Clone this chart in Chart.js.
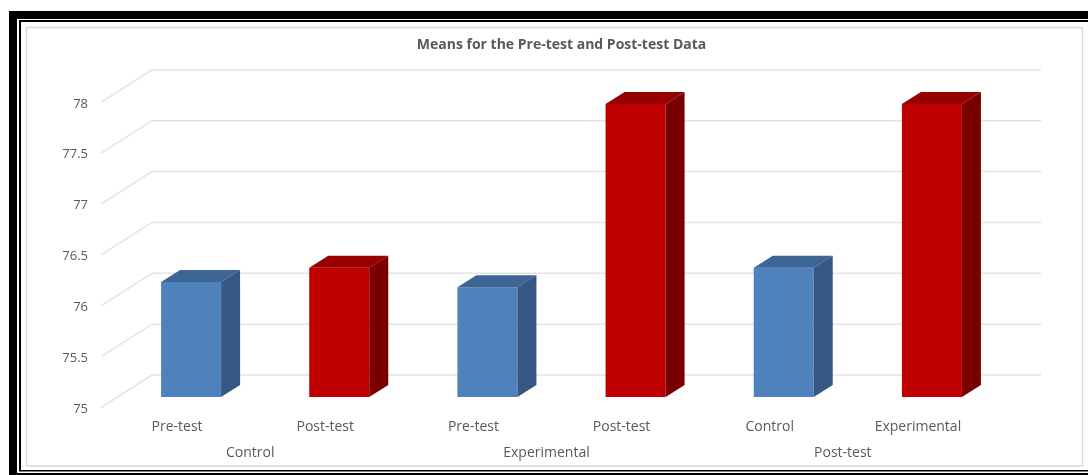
<!DOCTYPE html>
<html>
<head>
<meta charset="utf-8">
<title>Means for the Pre-test and Post-test Data</title>
<script src="https://cdn.jsdelivr.net/npm/chart.js@4.4.1/dist/chart.umd.min.js"></script>
<style>
  html, body { margin: 0; padding: 0; background: #fff; }
</style>
</head>
<body>
<canvas id="myChart" width="1088" height="475"></canvas>
<script>
// group names under each pair of bars, the test label under each bar, and the mean score
const groups = ['Control', 'Experimental', 'Post-test'];
const tests = ['Pre-test', 'Post-test', 'Pre-test', 'Post-test', 'Control', 'Experimental'];
const means = [76.13, 76.27, 76.08, 77.88, 76.27, 77.88];
const yTicks = [75, 75.5, 76, 76.5, 77, 77.5, 78];

const textColor = '#595959';

// face colours for the fake 3D boxes
const shade = {
    blue: { front: '#4f81bd', top: '#3d6696', side: '#355781' },
    red:  { front: '#c00000', top: '#960000', side: '#780000' }
};
const barColor = i => (i % 2 ? shade.red : shade.blue);

// box depth, and where the back wall / front edge sit relative to the bar plane
const depth = { dx: 19, dy: 12 };
const wall = { dx: 35, dy: 22, fx: 16, fy: 10.5 };

const box3d = {
    id: 'box3d',
    beforeDraw(chart) {
        const c = chart.ctx;
        const w = chart.width, h = chart.height;
        c.save();
        c.fillStyle = '#fff';
        c.fillRect(0, 0, w, h);
        // double black frame
        c.fillStyle = '#000';
        c.fillRect(9, 11, w - 9, 8);
        c.fillRect(9, 11, 8, h - 11);
        c.fillRect(9, 473, w - 9, 2);
        c.fillRect(19, 20, w - 19, 2);
        c.fillRect(19, 20, 2, 451);
        c.fillRect(19, 470, w - 19, 1.5);
        // light border of the chart box
        c.strokeStyle = '#d9d9d9';
        c.lineWidth = 1.5;
        c.strokeRect(26.5, 27.5, 1056, 438.5);
        c.restore();
    },
    beforeDatasetsDraw(chart) {
        const { ctx: c, chartArea: a, scales: { y } } = chart;
        c.save();
        c.strokeStyle = '#e4e4e4';
        c.lineWidth = 1.5;
        y.ticks.forEach(t => {
            const py = y.getPixelForValue(t.value);
            c.beginPath();
            c.moveTo(a.left - wall.fx, py + wall.fy);
            c.lineTo(a.left + wall.dx, py - wall.dy);
            c.lineTo(a.right + wall.dx, py - wall.dy);
            c.stroke();
        });
        c.restore();
    },
    afterDatasetsDraw(chart) {
        const c = chart.ctx;
        const yScale = chart.scales.y;
        // bars start at the axis minimum, not at zero
        const base = yScale.getPixelForValue(yScale.min);
        const poly = (pts, fill) => {
            c.beginPath();
            c.moveTo(pts[0][0], pts[0][1]);
            pts.slice(1).forEach(p => c.lineTo(p[0], p[1]));
            c.closePath();
            c.fillStyle = fill;
            c.fill();
        };
        c.save();
        chart.getDatasetMeta(0).data.forEach((bar, i) => {
            const { x, y, width } = bar.getProps(['x', 'y', 'width'], true);
            const l = x - width / 2, r = x + width / 2;
            const col = barColor(i);
            poly([[l, y], [r, y], [r + depth.dx, y - depth.dy], [l + depth.dx, y - depth.dy]], col.top);
            poly([[r, y], [r + depth.dx, y - depth.dy], [r + depth.dx, base - depth.dy], [r, base]], col.side);
        });
        c.restore();
    }
};

Chart.defaults.font.family = '"Open Sans", sans-serif';

function drawChart() {
    const ctx = document.getElementById('myChart').getContext('2d');
    new Chart(ctx, {
        type: 'bar',
        data: {
            labels: tests,
            datasets: [{
                label: 'Mean',
                data: means,
                backgroundColor: means.map((v, i) => barColor(i).front),
                borderWidth: 0,
                barPercentage: 0.405,
                categoryPercentage: 1
            }]
        },
        options: {
            responsive: false,
            animation: false,
            layout: { padding: { top: 0, right: 82, bottom: 0, left: 0 } },
            plugins: {
                legend: { display: false },
                tooltip: { enabled: false },
                title: {
                    display: true,
                    fullSize: false,
                    text: 'Means for the Pre-test and Post-test Data',
                    color: textColor,
                    font: { size: 14, weight: 'bold' },
                    padding: { top: 37, bottom: 38 }
                }
            },
            scales: {
                x: {
                    position: 'bottom',
                    grid: { display: false, drawTicks: false },
                    border: { display: false },
                    ticks: { color: textColor, font: { size: 14 }, padding: 22, labelOffset: -14, maxRotation: 0, autoSkip: false },
                    afterFit: s => { s.height = 40; }
                },
                x2: {
                    axis: 'x',
                    type: 'category',
                    labels: groups,
                    offset: true,
                    position: 'bottom',
                    grid: { display: false, drawTicks: false },
                    border: { display: false },
                    ticks: { color: textColor, font: { size: 14 }, padding: 8, labelOffset: -15, maxRotation: 0, autoSkip: false },
                    afterFit: s => { s.height = 38; }
                },
                y: {
                    min: 75,
                    max: 78,
                    grid: { display: false, drawTicks: false },
                    border: { display: false },
                    afterBuildTicks: s => { s.ticks = yTicks.map(v => ({ value: v })); },
                    ticks: { color: textColor, font: { size: 13 }, padding: 29, labelOffset: 12, callback: v => String(v) },
                    afterFit: s => { s.width = 117; }
                }
            }
        },
        plugins: [box3d]
    });
}

Promise.all([
    document.fonts.load('14px "Open Sans"'),
    document.fonts.load('bold 14px "Open Sans"')
]).then(drawChart, drawChart);
</script>
</body>
</html>
